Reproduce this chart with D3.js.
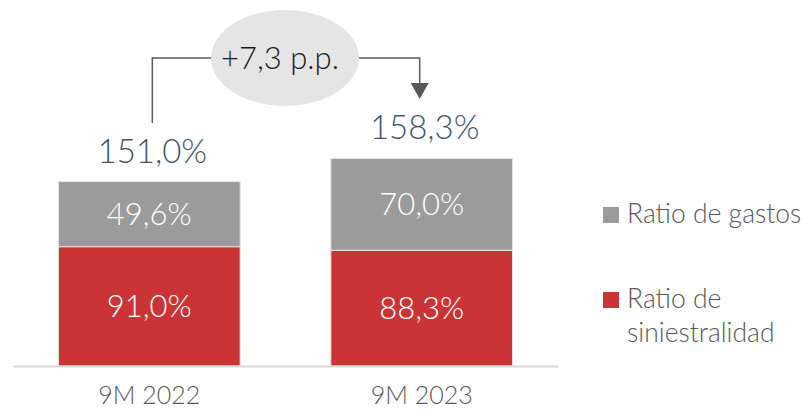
<!DOCTYPE html>
<html><head><meta charset="utf-8">
<script src="https://cdn.jsdelivr.net/npm/d3@7"></script>
<style>
html,body{margin:0;padding:0;background:#fff;}
svg{display:block;font-family:"Lato","Noto Sans",sans-serif;font-weight:300;}
</style></head>
<body>
<svg id="chart" width="806" height="410"></svg>
<script>
const categories = ["9M 2022", "9M 2023"];
const siniestralidad = [91.0, 88.3];
const gastos = [49.6, 70.0];
const totals = ["151,0%", "158,3%"];
const siniestralidadLabels = ["91,0%", "88,3%"];
const gastosLabels = ["49,6%", "70,0%"];
const seriesNames = ["Ratio de gastos", "Ratio de siniestralidad"];
const deltaLabel = "+7,3 p.p.";

const colors = {gastos: "#9b9b9b", sin: "#cb3434"};

const svg = d3.select("#chart");
const x = d3.scaleBand().domain(categories).range([13, 558]).paddingInner(0.333).paddingOuter(0.167);
const y = d3.scaleLinear().domain([0, 200]).range([366, 103.8]);

const rows = categories.map((c, i) => ({cat: c, sin: siniestralidad[i], gas: gastos[i], total: totals[i], sl: siniestralidadLabels[i], gl: gastosLabels[i]}));

const g = svg.append("g");
g.selectAll("rect.sin").data(rows).join("rect").attr("class", "sin")
  .attr("x", d => x(d.cat)).attr("width", x.bandwidth())
  .attr("y", d => y(d.sin)).attr("height", d => y(0) - y(d.sin))
  .attr("fill", colors.sin).attr("stroke", "#e3e3e3").attr("stroke-width", 1);
g.selectAll("rect.gas").data(rows).join("rect").attr("class", "gas")
  .attr("x", d => x(d.cat)).attr("width", x.bandwidth())
  .attr("y", d => y(d.sin + d.gas)).attr("height", d => y(d.sin) - y(d.sin + d.gas))
  .attr("fill", colors.gastos).attr("stroke", "#e3e3e3").attr("stroke-width", 1);

g.selectAll("text.sl").data(rows).join("text")
  .attr("x", d => x(d.cat) + x.bandwidth() / 2)
  .attr("y", d => (y(0) + y(d.sin)) / 2 + 11)
  .attr("text-anchor", "middle").attr("fill", "#fff").attr("font-size", 31)
  .text(d => d.sl);
g.selectAll("text.gl").data(rows).join("text")
  .attr("x", d => x(d.cat) + x.bandwidth() / 2)
  .attr("y", d => (y(d.sin) + y(d.sin + d.gas)) / 2 + 11)
  .attr("text-anchor", "middle").attr("fill", "#fff").attr("font-size", 31)
  .text(d => d.gl);
g.selectAll("text.tot").data(rows).join("text")
  .attr("x", d => x(d.cat) + x.bandwidth() / 2 + 3)
  .attr("y", d => y(d.sin + d.gas) - 19)
  .attr("text-anchor", "middle").attr("fill", "#44546a").attr("font-size", 33)
  .text(d => d.total);

const axis = svg.append("g").attr("transform", `translate(0,${y(0)})`)
  .call(d3.axisBottom(x).tickSize(0).tickPadding(0));
axis.select(".domain").attr("stroke", "#d9d9d9").attr("stroke-width", 2);
axis.selectAll(".tick text").attr("font-size", 25).attr("fill", "#595959")
  .attr("font-family", "Lato, 'Noto Sans', sans-serif").attr("font-weight", 300)
  .attr("dy", 0).attr("y", 38);

const ann = svg.append("g");
const x1c = x(categories[0]) + x.bandwidth() / 2 + 3;
const x2c = x(categories[1]) + x.bandwidth() / 2 - 2;
const lineY = 58;
ann.append("path").attr("d", `M${x1c},123 V${lineY} H${x2c} V89`)
  .attr("fill", "none").attr("stroke", "#595959").attr("stroke-width", 1.5);
ann.append("path").attr("d", `M${x2c - 9},83 L${x2c + 9},83 L${x2c},99 Z`).attr("fill", "#595959");
ann.append("ellipse").attr("cx", 285).attr("cy", 58).attr("rx", 74).attr("ry", 48).attr("fill", "#e5e5e5");
ann.append("text").attr("x", 280).attr("y", 69).attr("text-anchor", "middle")
  .attr("font-size", 31).attr("fill", "#1a1a1a").text(deltaLabel);

const leg = svg.append("g");
leg.append("rect").attr("x", 603).attr("y", 207).attr("width", 16).attr("height", 16).attr("fill", colors.gastos);
leg.append("text").attr("x", 627).attr("y", 223).attr("font-size", 26.5).attr("fill", "#595959").text(seriesNames[0]);
leg.append("rect").attr("x", 603).attr("y", 292).attr("width", 16).attr("height", 16).attr("fill", colors.sin);
const t2 = leg.append("text").attr("x", 627).attr("y", 308).attr("font-size", 26.5).attr("fill", "#595959");
const words = seriesNames[1].split(" ");
t2.append("tspan").attr("x", 627).text(words.slice(0, 2).join(" "));
t2.append("tspan").attr("x", 627).attr("dy", 34).text(words.slice(2).join(" "));
</script>
</body></html>
